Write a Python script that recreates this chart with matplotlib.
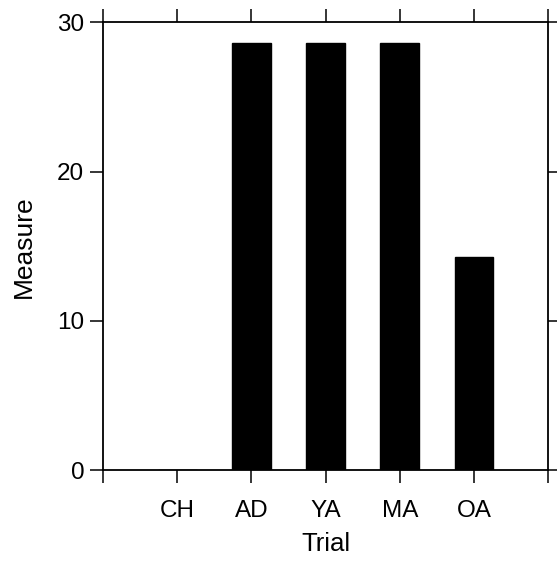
import matplotlib
matplotlib.use("Agg")
import matplotlib.pyplot as plt

# Group means per trial group
categories = ["CH", "AD", "YA", "MA", "OA"]
values = [0.0, 28.6, 28.6, 28.6, 14.3]
y_ticks = [0, 10, 20, 30]

plt.rcParams["font.family"] = ["Liberation Sans", "DejaVu Sans"]

fig = plt.figure(figsize=(5.57, 5.61), dpi=100)
ax = fig.add_axes([0.185, 0.162, 0.799, 0.798])

positions = list(range(1, len(categories) + 1))
ax.bar(positions, values, width=0.52, color="black", edgecolor="black")

ax.set_xlim(0, len(categories) + 1)
ax.set_ylim(0, 30)
ax.set_xticks([0] + positions + [len(categories) + 1])
ax.set_xticklabels([""] + categories + [""])
ax.set_yticks(y_ticks)

for s in ax.spines.values():
    s.set_linewidth(1.3)

ax.tick_params(axis="both", direction="out", length=9.5, width=1.1,
               labelsize=17.5, color="black")
ax.tick_params(axis="x", top=True, pad=12)
ax.tick_params(axis="y", right=True, pad=4)

ax.set_xlabel("Trial", fontsize=18.5, labelpad=7)
ax.set_ylabel("Measure", fontsize=19, labelpad=15)

fig.savefig("out.png", dpi=100)
